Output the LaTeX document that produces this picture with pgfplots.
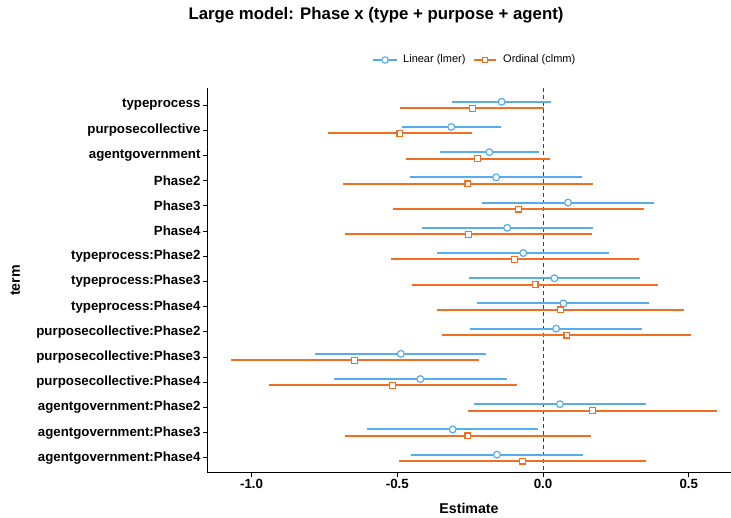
\documentclass[border=0pt]{standalone}
\usepackage{pgfplots}
\pgfplotsset{compat=1.18}
\usepackage{pgfplotstable}
\usepackage{fontspec}
\setmainfont{Liberation Sans}
\definecolor{lblue}{RGB}{86,172,236}
\definecolor{lorange}{RGB}{242,110,34}

\pgfplotstableread{
pos est em ep
0.873 -0.142 0.171 0.169
1.873 -0.315 0.169 0.170
2.873 -0.184 0.170 0.170
3.873 -0.161 0.295 0.296
4.873 0.086 0.295 0.294
5.873 -0.123 0.293 0.294
6.873 -0.068 0.295 0.295
7.873 0.039 0.293 0.294
8.873 0.070 0.296 0.294
9.873 0.045 0.296 0.295
10.873 -0.488 0.294 0.294
11.873 -0.421 0.295 0.296
12.873 0.058 0.295 0.297
13.873 -0.310 0.294 0.294
14.873 -0.158 0.295 0.295
}\lin

\pgfplotstableread{
pos est em ep
1.127 -0.243 0.247 0.245
2.127 -0.491 0.247 0.247
3.127 -0.225 0.246 0.248
4.127 -0.258 0.428 0.429
5.127 -0.084 0.431 0.431
6.127 -0.255 0.424 0.424
7.127 -0.097 0.426 0.426
8.127 -0.027 0.422 0.422
9.127 0.060 0.423 0.423
10.127 0.082 0.427 0.427
11.127 -0.646 0.424 0.425
12.127 -0.516 0.423 0.425
13.127 0.169 0.427 0.428
14.127 -0.258 0.422 0.422
15.127 -0.071 0.424 0.425
}\ord

\begin{document}
\begin{tikzpicture}
\begin{axis}[
  at={(207pt,45pt)}, anchor=south west, scale only axis,
  width=524pt, height=385pt,
  xmin=-1.153, xmax=0.645, ymin=0.325, ymax=15.6, y dir=reverse,
  axis x line*=bottom, axis y line*=left,
  axis line style={line width=1pt, -},
  xtick={-1,-0.5,0,0.5}, xticklabels={-1.0,-0.5,0.0,0.5},
  ytick={1,...,15},
  yticklabels={typeprocess,purposecollective,agentgovernment,Phase2,Phase3,Phase4,typeprocess:Phase2,typeprocess:Phase3,typeprocess:Phase4,purposecollective:Phase2,purposecollective:Phase3,purposecollective:Phase4,agentgovernment:Phase2,agentgovernment:Phase3,agentgovernment:Phase4},
  tick align=outside, major tick length=4pt,
  tick style={black, line width=1pt},
  ticklabel style={font=\bfseries\fontsize{13.3}{15}\selectfont},
  yticklabel style={xshift=1pt},
  xticklabel style={yshift=1pt},
  xlabel={Estimate}, ylabel={term},
  label style={font=\bfseries\fontsize{14.2}{16}\selectfont},
  xlabel style={at={(axis description cs:0.5,-0.091)}, anchor=center},
  ylabel style={at={(axis description cs:-0.366,0.5)}, anchor=center},
  clip=false,
]
\addplot[black!75, line width=0.7pt, forget plot, dash pattern=on 4pt off 3pt] coordinates {(0,0.325) (0,15.6)};

\addplot[only marks, lblue, mark=*, mark size=3.4pt,
  mark options={fill=white, draw=lblue, line width=1.2pt},
  error bars/.cd, x dir=both, x explicit, error mark=none,
  error bar style={line width=2pt, lblue},
  ]
  table[x=est, y=pos, x error plus=ep, x error minus=em] {\lin};
\addplot[only marks, lorange, mark=square*, mark size=2.9pt,
  mark options={fill=white, draw=lorange, line width=1.2pt},
  error bars/.cd, x dir=both, x explicit, error mark=none,
  error bar style={line width=2pt, lorange},
  ]
  table[x=est, y=pos, x error plus=ep, x error minus=em] {\ord};
\end{axis}
\draw[lblue, line width=1.5pt] (373pt,458pt) -- (397pt,458pt);
\draw[lblue, line width=1.1pt, fill=white] (385pt,458pt) circle (3.2pt);
\node[anchor=west, font=\fontsize{11}{13}\selectfont, inner sep=0pt] at (403pt,458pt) {Linear (lmer)};
\draw[lorange, line width=1.5pt] (474pt,458pt) -- (496pt,458pt);
\draw[lorange, line width=1.1pt, fill=white] (482.2pt,455.2pt) rectangle (487.8pt,460.8pt);
\node[anchor=west, font=\fontsize{11}{13}\selectfont, inner sep=0pt] at (503pt,458pt) {Ordinal (clmm)};
\node[font=\bfseries\fontsize{16.8}{19}\selectfont] at (376pt,503pt) {Large model: Phase x (type + purpose + agent)};
\pgfresetboundingbox
\path (0pt,0pt) rectangle (731pt,518pt);
\end{tikzpicture}
\end{document}
